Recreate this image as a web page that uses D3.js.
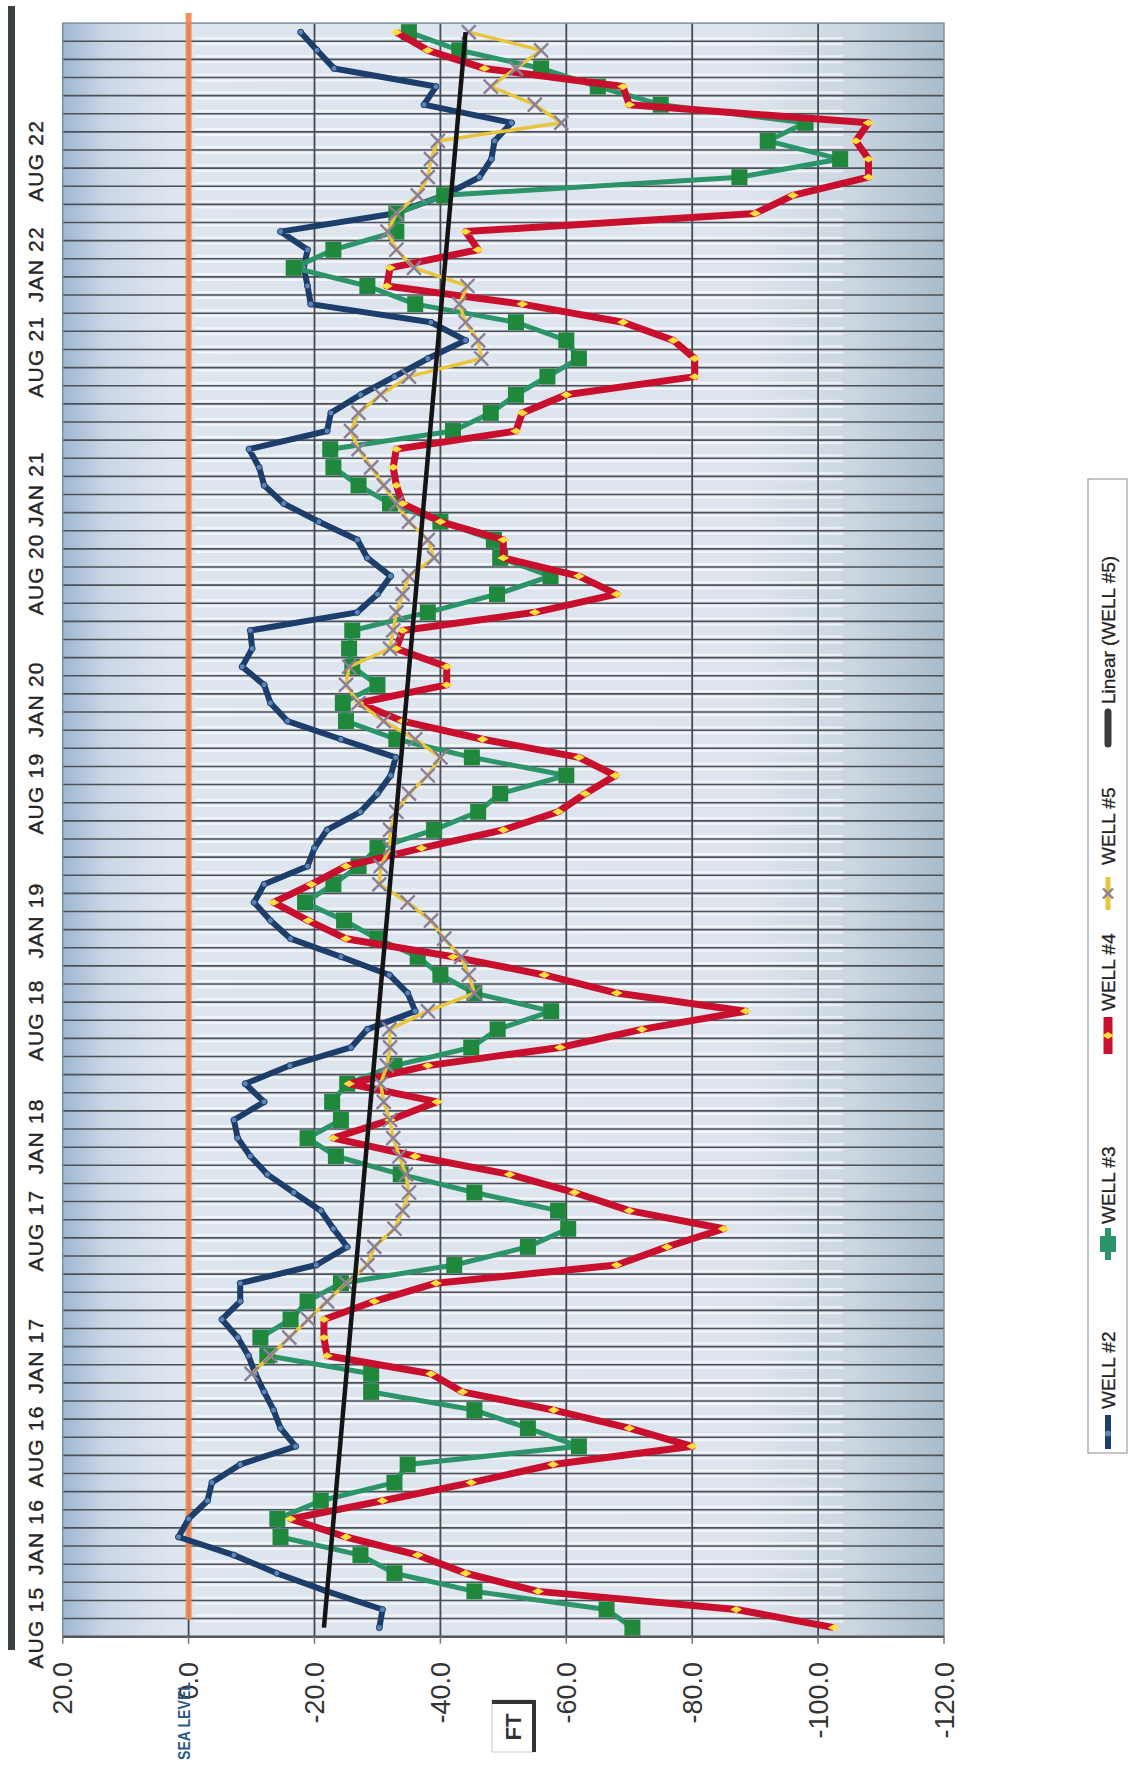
<!DOCTYPE html>
<html><head><meta charset="utf-8">
<script src="https://cdn.jsdelivr.net/npm/d3@7"></script>
<style>body{margin:0;background:#fff;} svg{display:block;font-family:"Liberation Sans",Arial,sans-serif;}</style>
</head><body>
<svg id="c" width="1129" height="1767"></svg>
<script>
// ---- data (category = measurement number, oldest first) ----
const categories = d3.range(89);
const timeLabels = ["AUG 15","JAN 16","AUG 16","JAN 17","AUG 17","JAN 18","AUG 18","JAN 19","AUG 19","JAN 20","AUG 20","JAN 21","AUG 21","JAN 22","AUG 22"];
const timeLabelPos = [0,5,10,15,21.9,27.1,33.5,39,46,51.2,58.1,62.8,70.1,75.2,80.9];
const valueTicks = [20,0,-20,-40,-60,-80,-100,-120];

const well2 = [-30.3,-30.8,-22,-14,-7.2,1.6,0,-3,-3.7,-8.2,-17,-14.6,-13.5,-12,-10.6,-9.5,-7.8,-5.3,-8.2,-8.2,
 -20.3,-25.2,-23,-21,-16.7,-12.5,-9.8,-7.8,-7.2,-12,-9,-16.1,-25.8,-28.4,-36,-34.8,-31.9,-24.2,-16.2,-13,
 -10.4,-12,-18.9,-20,-22,-27.3,-30,-32.1,-32.9,-24.2,-15.7,-13,-12,-8.5,-10.1,-9.8,-26.8,-30,-32.1,-28.4,
 -26.8,-20.7,-15.1,-12,-11.2,-9.6,-22,-22.6,-27.3,-32.7,-38,-44,-38.5,-19.4,-18.9,-18.3,-18.9,-14.6,-32.7,-40.6,
 -46.2,-48.1,-48.6,-51.3,-37.4,-39.3,-23.1,-20.4,-17.8];
const well3 = [-70.5,-66.4,-45.4,-32.7,-27.3,-14.6,-14.1,-21,-32.7,-34.8,-62,-53.9,-45.4,-29,-29,-12.5,-11.4,-16.2,-18.9,-24.2,
 -42.2,-53.9,-60.3,-58.7,-45.4,-33.7,-23.4,-18.9,-24.2,-22.8,-25.2,-32.7,-44.9,-49.1,-57.6,-45.4,-40,-36.4,-30,-24.7,
 -18.5,-23,-27,-30,-39,-46,-49.5,-60,-45,-33,-25,-24.5,-30,-26,-25.5,-26,-38,-49,-57.5,-49.5,
 -48.5,-40,-32,-27,-23,-22.5,-42,-48,-52,-57,-62,-60,-52,-36,-28.4,-16.7,-23,-33,-33,-40.6,
 -87.5,-103.5,-92,-98,-75,-65,-56,-43,-35];
const well4 = [-102.5,-87,-55.5,-44,-36.4,-25,-16.2,-30.8,-44.9,-57.9,-80,-70,-58,-43.5,-38.5,-22,-21.5,-21.5,-29.5,-39.3,
 -68,-76,-85,-70,-61.3,-51,-36,-23,-32,-39.5,-25.5,-38,-59,-72,-88.5,-68,-56.5,-42,-25,-19,
 -13.5,-19.5,-25,-37,-50,-58.7,-63,-67.8,-62,-46.7,-34,-27,-41,-41,-33,-34,-55,-68,-62,-50,
 -50,-40,-34,-33,-32.5,-33,-52,-53,-60,-80.4,-80.4,-77,-69,-53,-31.5,-32,-46,-44,-90,-96,
 -108,-108,-106,-108,-70,-69,-47,-38,-33];
const well5 = [null,null,null,null,null,null,null,null,null,null,null,null,null,null,-10,-13,-16,-19,-22,-25,
 -28.4,-29.5,-32.7,-34,-35,-34.5,-33.5,-32.5,-32,-31,-30.5,-31.5,-32,-31.9,-38,-45.4,-44.5,-43.3,-40.6,-38.5,
 -34.8,-30.3,-30.5,-32,-32,-33,-35,-38,-40,-36,-31,-27,-25,-25.5,-32,-32.5,-33,-34,-35,-39,
 -38,-35,-33,-31,-29,-27,-25.8,-27,-30.5,-35,-46.5,-46,-44,-43,-44.3,-35.8,-33,-31.6,-33,-36.4,
 -38,-38.5,-39.6,-59.2,-55,-48,-52,-56,-44.5];
const trendCats = [0, 88];
const trendVals = [-21.5, -44.0];
const seaLevel = 0;
const seriesNames = ["WELL #2","WELL #3","WELL #4","WELL #5","Linear (WELL #5)"];

// ---- drawing: chart is built upright, then turned a quarter turn ----
const SW = 1767;
const svg = d3.select('#c');
const defs = svg.append('defs');
const grad = defs.append('linearGradient').attr('id','bg').attr('x1','0').attr('x2','0').attr('y1','0').attr('y2','1');
[[0,'#9fb6d2'],[0.05,'#cbd7e6'],[0.12,'#dde5ef'],[0.78,'#dde4ed'],[0.9,'#cad6e0'],[1,'#a9bccb']].forEach(s=>grad.append('stop').attr('offset',s[0]).attr('stop-color',s[1]));

const g = svg.append('g').attr('transform',`translate(0,${SW}) rotate(-90)`);
const x = d3.scaleLinear().domain([-0.5, 88.5]).range([130.3, 1743.9]);
const y = d3.scaleLinear().domain([20, -120]).range([62.7, 944]);
const [x0,x1] = x.range(), [y0,y1] = y.range();

// dark bar at the top edge
g.append('rect').attr('x',117).attr('y',8).attr('width',1644).attr('height',7).attr('fill','#3b4141');

// plot background
g.append('rect').attr('x',x0).attr('y',y0).attr('width',x1-x0).attr('height',y1-y0).attr('fill','url(#bg)');

// category grid lines with light halo
const gl = categories.slice(1).map(i=>i-0.5);
[-3,3].forEach(off=>{
  g.append('g').selectAll('line').data(gl).join('line')
    .attr('x1',d=>x(d)+off).attr('x2',d=>x(d)+off).attr('y1',y(-1)).attr('y2',y(-104))
    .attr('stroke','#ffffff').attr('stroke-width',2).attr('opacity',0.65);
});
g.append('g').selectAll('line').data(gl).join('line')
  .attr('x1',d=>x(d)).attr('x2',d=>x(d)).attr('y1',y0).attr('y2',y1)
  .attr('stroke','#4b5157').attr('stroke-width',1.6);
// value grid lines
g.append('g').selectAll('line').data(valueTicks.slice(1,-1)).join('line')
  .attr('x1',x0).attr('x2',x1).attr('y1',d=>y(d)).attr('y2',d=>y(d))
  .attr('stroke','#454a50').attr('stroke-width',1.8);
g.append('rect').attr('x',x0).attr('y',y0).attr('width',x1-x0).attr('height',y1-y0)
  .attr('fill','none').attr('stroke','#7d8ea0').attr('stroke-width',1.5);
// axis line + ticks
g.append('line').attr('x1',x0).attr('x2',x0).attr('y1',y0).attr('y2',y1).attr('stroke','#555').attr('stroke-width',2.5);
g.append('g').selectAll('line').data(valueTicks).join('line')
  .attr('x1',x0).attr('x2',x0-7).attr('y1',d=>y(d)).attr('y2',d=>y(d)).attr('stroke','#777').attr('stroke-width',1.5);

// sea level line
g.append('line').attr('x1',x0+17).attr('x2',x1+10).attr('y1',y(seaLevel)).attr('y2',y(seaLevel))
  .attr('stroke','#ee8650').attr('stroke-width',6).attr('opacity',0.9);

// value labels
g.append('g').selectAll('text').data(valueTicks).join('text')
  .attr('x',105).attr('y',d=>y(d)).attr('dy','0.36em').attr('text-anchor','end')
  .attr('font-size',27).attr('fill','#333').text(d=>d.toFixed(1));
// time labels
g.append('g').selectAll('text').data(timeLabels).join('text')
  .attr('x',(d,i)=>x(timeLabelPos[i])).attr('y',43).attr('text-anchor','middle')
  .attr('font-size',21).attr('letter-spacing',1.2).attr('fill','#262626')
  .attr('stroke','#262626').attr('stroke-width',0.4).text(d=>d);

// SEA LEVEL tag
g.append('text').attr('x',7).attr('y',y(0)+1).attr('font-size',17).attr('font-weight','bold')
  .attr('fill','#2c5a87').attr('textLength',78).attr('lengthAdjust','spacingAndGlyphs').text('SEA LEVEL');
// FT title box
g.append('rect').attr('x',15).attr('y',492).attr('width',52).attr('height',42).attr('fill','#fff').attr('stroke','#c8c8c8');
g.append('line').attr('x1',15).attr('x2',67).attr('y1',534).attr('y2',534).attr('stroke','#333').attr('stroke-width',4);
g.append('line').attr('x1',65).attr('x2',65).attr('y1',492).attr('y2',536).attr('stroke','#333').attr('stroke-width',4);
g.append('text').attr('x',40).attr('y',513).attr('dy','0.36em').attr('text-anchor','middle')
  .attr('font-size',22).attr('font-weight',600).attr('fill','#333').text('FT');

// series
const mk = arr => categories.map(i=>[i, arr[i]]);
const line = d3.line().defined(d=>d[1]!=null).x(d=>x(d[0])).y(d=>y(d[1]));
const plot = g.append('g');

// WELL #2
plot.append('path').datum(mk(well2)).attr('d',line).attr('fill','none')
  .attr('stroke','#1d3d6b').attr('stroke-width',6).attr('stroke-linejoin','round');
plot.append('g').selectAll('circle').data(mk(well2)).join('circle')
  .attr('cx',d=>x(d[0])).attr('cy',d=>y(d[1])).attr('r',3).attr('fill','#5d86b8').attr('stroke','#1d3d6b').attr('stroke-width',1);
// WELL #3
plot.append('path').datum(mk(well3)).attr('d',line).attr('fill','none')
  .attr('stroke','#2b9468').attr('stroke-width',5).attr('stroke-linejoin','round');
plot.append('g').selectAll('rect').data(mk(well3)).join('rect')
  .attr('x',d=>x(d[0])-8).attr('y',d=>y(d[1])-8).attr('width',16).attr('height',16).attr('fill','#20883c');
// WELL #4
plot.append('path').datum(mk(well4)).attr('d',line).attr('fill','none')
  .attr('stroke','#c8102e').attr('stroke-width',7).attr('stroke-linejoin','round');
plot.append('g').selectAll('path').data(mk(well4)).join('path')
  .attr('transform',d=>`translate(${x(d[0])},${y(d[1])})`)
  .attr('d',d3.symbol(d3.symbolDiamond,40)).attr('fill','#ffdf3c');
// WELL #5
const w5 = mk(well5).filter(d=>d[1]!=null);
plot.append('path').datum(w5).attr('d',line).attr('fill','none')
  .attr('stroke','#e9c53c').attr('stroke-width',3.5).attr('stroke-linejoin','round');
plot.append('g').selectAll('path').data(w5).join('path')
  .attr('transform',d=>`translate(${x(d[0])},${y(d[1])})`)
  .attr('d','M-7,-7L7,7M-7,7L7,-7').attr('stroke','#8b7f98').attr('stroke-width',2.4).attr('fill','none');
// trend line
plot.append('path').datum(trendCats.map((c,i)=>[c,trendVals[i]])).attr('d',line)
  .attr('stroke','#141414').attr('stroke-width',4.5).attr('fill','none');

// legend
const lg = g.append('g');
lg.append('rect').attr('x',314).attr('y',1088).attr('width',974).attr('height',39).attr('fill','#fff').attr('stroke','#8a8a8a');
const ly = 1108;
const items = [
  {s:315,e:352,t:358},{s:507,e:539,t:543},{s:713,e:750,t:756},{s:857,e:890,t:902},{s:1023,e:1055,t:1063}];
lg.append('line').attr('x1',items[0].s+3).attr('x2',items[0].e).attr('y1',ly).attr('y2',ly).attr('stroke','#1d3d6b').attr('stroke-width',6);
lg.append('circle').attr('cx',(items[0].s+items[0].e)/2).attr('cy',ly).attr('r',3).attr('fill','#5d86b8');
lg.append('line').attr('x1',items[1].s).attr('x2',items[1].e).attr('y1',ly).attr('y2',ly).attr('stroke','#2b9468').attr('stroke-width',6);
lg.append('rect').attr('x',(items[1].s+items[1].e)/2-8).attr('y',ly-8).attr('width',16).attr('height',16).attr('fill','#2b9468');
lg.append('line').attr('x1',items[2].s).attr('x2',items[2].e).attr('y1',ly).attr('y2',ly).attr('stroke','#c8102e').attr('stroke-width',9);
lg.append('path').attr('transform',`translate(${(items[2].s+items[2].e)/2},${ly})`).attr('d',d3.symbol(d3.symbolDiamond,40)).attr('fill','#ffdf3c');
lg.append('line').attr('x1',items[3].s).attr('x2',items[3].e).attr('y1',ly).attr('y2',ly).attr('stroke','#e9c53c').attr('stroke-width',5);
lg.append('path').attr('transform',`translate(${(items[3].s+items[3].e)/2},${ly})`).attr('d','M-5,-5L5,5M-5,5L5,-5').attr('stroke','#8b7f98').attr('stroke-width',2.4);
lg.append('line').attr('x1',items[4].s).attr('x2',items[4].e).attr('y1',ly).attr('y2',ly).attr('stroke','#3a3a3a').attr('stroke-width',7).attr('stroke-linecap','round');
lg.selectAll('text.lt').data(seriesNames).join('text').attr('class','lt')
  .attr('x',(d,i)=>items[i].t).attr('y',ly).attr('dy','0.36em').attr('font-size',19).attr('fill','#222')
  .attr('stroke','#222').attr('stroke-width',0.3).text(d=>d);
</script>
</body></html>
